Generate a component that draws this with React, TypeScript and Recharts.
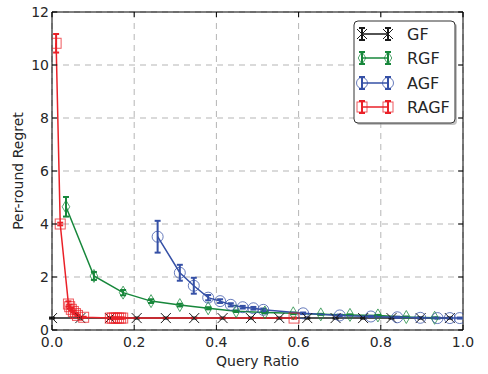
import React from 'react';
import { LineChart, Line, XAxis, YAxis, CartesianGrid, ErrorBar, ReferenceLine, Legend } from 'recharts';

// ---------- data ----------
const xTicks = [0, 0.2, 0.4, 0.6, 0.8, 1.0];
const yTicks = [0, 2, 4, 6, 8, 10, 12];

const gfX = [0, 0.069, 0.141, 0.206, 0.277, 0.346, 0.415, 0.484, 0.553, 0.621, 0.69, 0.757, 0.826, 0.897, 0.968];
const gfY = [0.45, 0.45, 0.45, 0.45, 0.45, 0.45, 0.45, 0.45, 0.45, 0.45, 0.45, 0.45, 0.45, 0.45, 0.45];
const gfErr = [0.02, 0.02, 0.02, 0.02, 0.02, 0.02, 0.02, 0.02, 0.02, 0.02, 0.02, 0.02, 0.02, 0.02, 0.02];

const rgfX = [0.034, 0.102, 0.173, 0.241, 0.311, 0.38, 0.448, 0.518, 0.587, 0.654, 0.725, 0.793, 0.862, 0.931];
const rgfY = [4.65, 2.04, 1.41, 1.09, 0.94, 0.82, 0.71, 0.66, 0.63, 0.59, 0.57, 0.55, 0.49, 0.46];
const rgfErr = [0.37, 0.15, 0.1, 0.07, 0.05, 0.04, 0.03, 0.03, 0.03, 0.02, 0.02, 0.02, 0.02, 0.02];

const agfX = [0.257, 0.311, 0.345, 0.38, 0.409, 0.435, 0.464, 0.49, 0.514, 0.611, 0.7, 0.776, 0.84, 0.896, 0.938, 0.968, 0.992];
const agfY = [3.52, 2.16, 1.67, 1.22, 1.09, 0.95, 0.86, 0.82, 0.76, 0.63, 0.55, 0.51, 0.48, 0.46, 0.45, 0.45, 0.45];
const agfErr = [0.6, 0.3, 0.3, 0.1, 0.07, 0.06, 0.05, 0.05, 0.05, 0.03, 0.03, 0.02, 0.02, 0.02, 0.02, 0.02, 0.02];

const ragfX = [0.01, 0.02, 0.04, 0.043, 0.047, 0.052, 0.057, 0.062, 0.077, 0.142, 0.147, 0.152, 0.157, 0.162, 0.167, 0.172, 0.589];
const ragfY = [10.82, 4.0, 0.98, 0.88, 0.78, 0.7, 0.62, 0.55, 0.48, 0.45, 0.45, 0.45, 0.45, 0.45, 0.45, 0.45, 0.45];
const ragfErr = [0.35, 0.05, 0.1, 0.08, 0.05, 0.04, 0.03, 0.03, 0.02, 0.02, 0.02, 0.02, 0.02, 0.02, 0.02, 0.02, 0.02];

const seriesNames = ['GF', 'RGF', 'AGF', 'RAGF'];

// ---------- styling ----------
const FONT = '"DejaVu Sans", sans-serif';
const TEXT = '#262626';
const COLORS: Record<string, string> = { GF: '#1a1a1a', RGF: '#17873b', AGF: '#3550a6', RAGF: '#ea2128' };
const SHAPES: Record<string, string> = { GF: 'x', RGF: 'diamond', AGF: 'circle', RAGF: 'square' };

const PL = 52, PR = 463, PT = 12, PB = 330;

const build = (xs: number[], ys: number[], es: number[]) => xs.map((x, i) => ({ x, y: ys[i], e: es[i] }));
const seriesData: Record<string, any[]> = {
  GF: build(gfX, gfY, gfErr),
  RGF: build(rgfX, rgfY, rgfErr),
  AGF: build(agfX, agfY, agfErr),
  RAGF: build(ragfX, ragfY, ragfErr),
};

function Marker({ shape, color, cx, cy }: any) {
  const op = 0.75;
  if (shape === 'x') {
    return <path d={`M${cx - 5},${cy - 5}L${cx + 5},${cy + 5}M${cx - 5},${cy + 5}L${cx + 5},${cy - 5}`} stroke={color} strokeWidth={1} fill="none" />;
  }
  if (shape === 'diamond') {
    return <polygon points={`${cx},${cy - 6.5} ${cx + 3.8},${cy} ${cx},${cy + 6.5} ${cx - 3.8},${cy}`} stroke={color} strokeOpacity={op} strokeWidth={1} fill="none" />;
  }
  if (shape === 'circle') {
    return <circle cx={cx} cy={cy} r={5.5} stroke={color} strokeOpacity={op} strokeWidth={1} fill="none" />;
  }
  return <rect x={cx - 5} y={cy - 5} width={10} height={10} stroke={color} strokeOpacity={op} strokeWidth={1} fill="none" />;
}

const makeDot = (name: string) => (props: any) => {
  const { cx, cy, index } = props;
  if (cx == null || cy == null) return <g key={`${name}-${index}`} />;
  return <Marker key={`${name}-${index}`} shape={SHAPES[name]} color={COLORS[name]} cx={cx} cy={cy} />;
};

const YTick = (props: any) => {
  const { y, payload } = props;
  return (
    <g>
      <text x={PL - 3} y={y} dy={5} textAnchor="end" fontSize={14} fontFamily={FONT} fill={TEXT}>{payload.value}</text>
      <line x1={PL} x2={PL + 5} y1={y} y2={y} stroke="#000" strokeWidth={1} />
      <line x1={PR} x2={PR - 5} y1={y} y2={y} stroke="#000" strokeWidth={1} />
    </g>
  );
};

const XTick = (props: any) => {
  const { x, payload } = props;
  return (
    <g>
      <text x={x} y={PB + 17} textAnchor="middle" fontSize={14} fontFamily={FONT} fill={TEXT}>{Number(payload.value).toFixed(1)}</text>
      <line x1={x} x2={x} y1={PB} y2={PB - 5} stroke="#000" strokeWidth={1} />
      <line x1={x} x2={x} y1={PT} y2={PT + 5} stroke="#000" strokeWidth={1} />
    </g>
  );
};

const renderLegend = () => {
  const rowY = [14, 38, 63, 87];
  return (
    <svg width={108} height={108} style={{ display: 'block' }}>
      <rect x={3} y={3} width={101} height={102} rx={4} fill="#999" opacity={0.6} />
      <rect x={1} y={1} width={101} height={102} rx={4} fill="#fff" stroke="#333" strokeWidth={1} />
      {seriesNames.map((name, i) => {
        const cy = rowY[i];
        const c = COLORS[name];
        return (
          <g key={name}>
            <line x1={9} x2={35} y1={cy} y2={cy} stroke={c} strokeWidth={1.5} />
            {[9, 35].map((cx) => (
              <g key={cx}>
                <line x1={cx} x2={cx} y1={cy - 6} y2={cy + 6} stroke={c} strokeWidth={2} />
                <line x1={cx - 3} x2={cx + 3} y1={cy - 6} y2={cy - 6} stroke={c} strokeWidth={2} />
                <line x1={cx - 3} x2={cx + 3} y1={cy + 6} y2={cy + 6} stroke={c} strokeWidth={2} />
                <Marker shape={SHAPES[name]} color={c} cx={cx} cy={cy} />
              </g>
            ))}
            <text x={54} y={cy + 6} fontSize={16} fontFamily={FONT} fill={TEXT}>{name}</text>
          </g>
        );
      })}
    </svg>
  );
};

export default function App() {
  return (
    <div style={{ position: 'absolute', left: 0, top: 0, width: 488, height: 374, background: '#fff' }}>
      <LineChart width={488} height={374} margin={{ top: PT, right: 488 - PR, left: 0, bottom: 0 }}>
        <CartesianGrid stroke="#b5b5b5" strokeDasharray="6 5" strokeWidth={1} />
        <XAxis
          type="number"
          dataKey="x"
          domain={[0, 1]}
          ticks={xTicks}
          allowDataOverflow
          height={374 - PB}
          tickLine={false}
          axisLine={{ stroke: '#000', strokeWidth: 1 }}
          tick={<XTick />}
          label={{ value: 'Query Ratio', position: 'center', dy: 9, style: { fontSize: 14, fontFamily: FONT, fill: TEXT } }}
        />
        <YAxis
          type="number"
          dataKey="y"
          domain={[0, 12]}
          ticks={yTicks}
          allowDataOverflow
          width={PL}
          tickLine={false}
          axisLine={{ stroke: '#000', strokeWidth: 1 }}
          tick={<YTick />}
          label={{ value: 'Per-round Regret', angle: -90, position: 'center', dx: -8, style: { fontSize: 14, fontFamily: FONT, fill: TEXT, textAnchor: 'middle' } }}
        />
        <ReferenceLine y={12} stroke="#000" strokeWidth={1} />
        <ReferenceLine x={1} stroke="#000" strokeWidth={1} />
        {seriesNames.map((name) => (
          <Line
            key={name}
            name={name}
            data={seriesData[name]}
            dataKey="y"
            type="linear"
            stroke={COLORS[name]}
            strokeWidth={1.5}
            dot={makeDot(name)}
            activeDot={false}
            isAnimationActive={false}
          >
            <ErrorBar dataKey="e" direction="y" width={3} strokeWidth={2} stroke={COLORS[name]} />
          </Line>
        ))}
        <Legend
          layout="vertical"
          align="center"
          verticalAlign="middle"
          content={renderLegend}
          wrapperStyle={{ position: 'absolute', left: 353, top: 20, width: 108, height: 108 }}
        />
      </LineChart>
    </div>
  );
}
